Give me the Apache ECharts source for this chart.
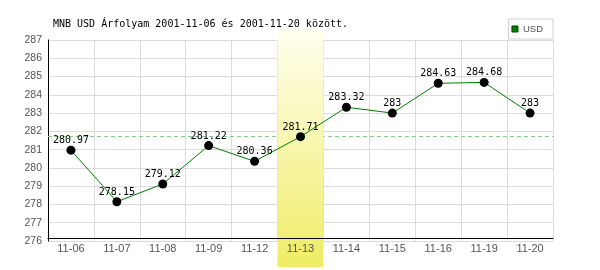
<!DOCTYPE html>
<html>
<head>
<meta charset="utf-8">
<script src="https://cdn.jsdelivr.net/npm/echarts@6/dist/echarts.min.js"></script>
<style>html,body{margin:0;padding:0;background:#fff}#c{width:600px;height:270px}</style>
</head>
<body>
<div id="c"></div>
<script>
const titleText = 'MNB USD Árfolyam 2001-11-06 és 2001-11-20 között.';
const categories = ['11-06','11-07','11-08','11-09','11-12','11-13','11-14','11-15','11-16','11-19','11-20'];
const usdValues = [280.97, 278.15, 279.12, 281.22, 280.36, 281.71, 283.32, 283, 284.63, 284.68, 283];
const seriesName = 'USD';
const highlightCategory = '11-13';
const referenceValue = 281.71;
const yMin = 276, yMax = 287, yStep = 1;

const chart = echarts.init(document.getElementById('c'), null, {renderer: 'canvas'});
const option = {
  animation: false,
  backgroundColor: '#fff',
  title: {
    text: titleText,
    left: 53, top: 18, padding: 0,
    textStyle: {fontFamily: 'DejaVu Sans Mono', fontSize: 10, fontWeight: 'normal', color: '#000', lineHeight: 12}
  },
  legend: {
    right: 47, top: 19,
    data: [{name: seriesName, icon: 'rect', itemStyle: {color: '#008000', borderColor: '#004000', borderWidth: 1}}],
    itemWidth: 6, itemHeight: 6, itemGap: 2,
    padding: [5, 10, 5, 3],
    backgroundColor: '#fff', borderColor: '#d0d0d0', borderWidth: 1, borderRadius: 0,
    textStyle: {fontFamily: 'Liberation Sans', fontSize: 9.5, color: '#555', lineHeight: 10, padding: [0, 0, 0, 0]}
  },
  grid: {left: 48, right: 47, top: 40, bottom: 29, containLabel: false},
  xAxis: [
    {
      type: 'category', data: categories, boundaryGap: true, position: 'bottom', z: 0,
      axisLine: {show: false}, axisTick: {show: false}, axisLabel: {show: false},
      splitLine: {show: true, lineStyle: {color: '#dcdcdc', width: 1}}
    },
    {
      type: 'category', data: categories, boundaryGap: true, position: 'bottom', z: 4, offset: -3,
      axisLine: {show: true, onZero: false, lineStyle: {color: '#000', width: 1}},
      axisTick: {show: false},
      axisLabel: {margin: 5, fontFamily: 'Liberation Sans', fontSize: 11, color: '#555'},
      splitLine: {show: false}
    }
  ],
  yAxis: {
    type: 'value', min: yMin, max: yMax, interval: yStep, z: 0,
    axisLine: {show: true, lineStyle: {color: '#000', width: 1}},
    axisTick: {show: false},
    axisLabel: {margin: 6, fontFamily: 'Liberation Sans', fontSize: 10.5, color: '#555'},
    splitLine: {show: true, lineStyle: {color: '#dcdcdc', width: 1}}
  },
  series: [{
    name: seriesName, type: 'line', data: usdValues, xAxisIndex: 0, z: 3,
    symbol: 'circle', symbolSize: 9,
    itemStyle: {color: '#000'},
    lineStyle: {color: '#008000', width: 1},
    label: {show: true, position: 'top', distance: 0, fontFamily: 'DejaVu Sans Mono', fontSize: 10, color: '#000'},
    markLine: {
      z: 1, silent: true, symbol: ['none', 'none'], label: {show: false},
      lineStyle: {color: '#88cc88', type: [4, 3], width: 1},
      data: [{yAxis: referenceValue}]
    }
  }]
};
chart.setOption(option);

const idx = categories.indexOf(highlightCategory);
const cx = chart.convertToPixel({xAxisIndex: 0}, idx);
const nx = chart.convertToPixel({xAxisIndex: 0}, idx + 1 < categories.length ? idx + 1 : idx - 1);
const half = Math.abs(nx - cx) / 2;
chart.setOption({
  graphic: [{
    type: 'rect', z: 2, silent: true,
    shape: {x: cx - half, y: 29, width: half * 2, height: 238},
    style: {
      fill: new echarts.graphic.LinearGradient(0, 0, 0, 1, [
        {offset: 0, color: '#fffff0'},
        {offset: 1, color: '#f0ec66'}
      ])
    }
  }]
});
</script>
</body>
</html>
